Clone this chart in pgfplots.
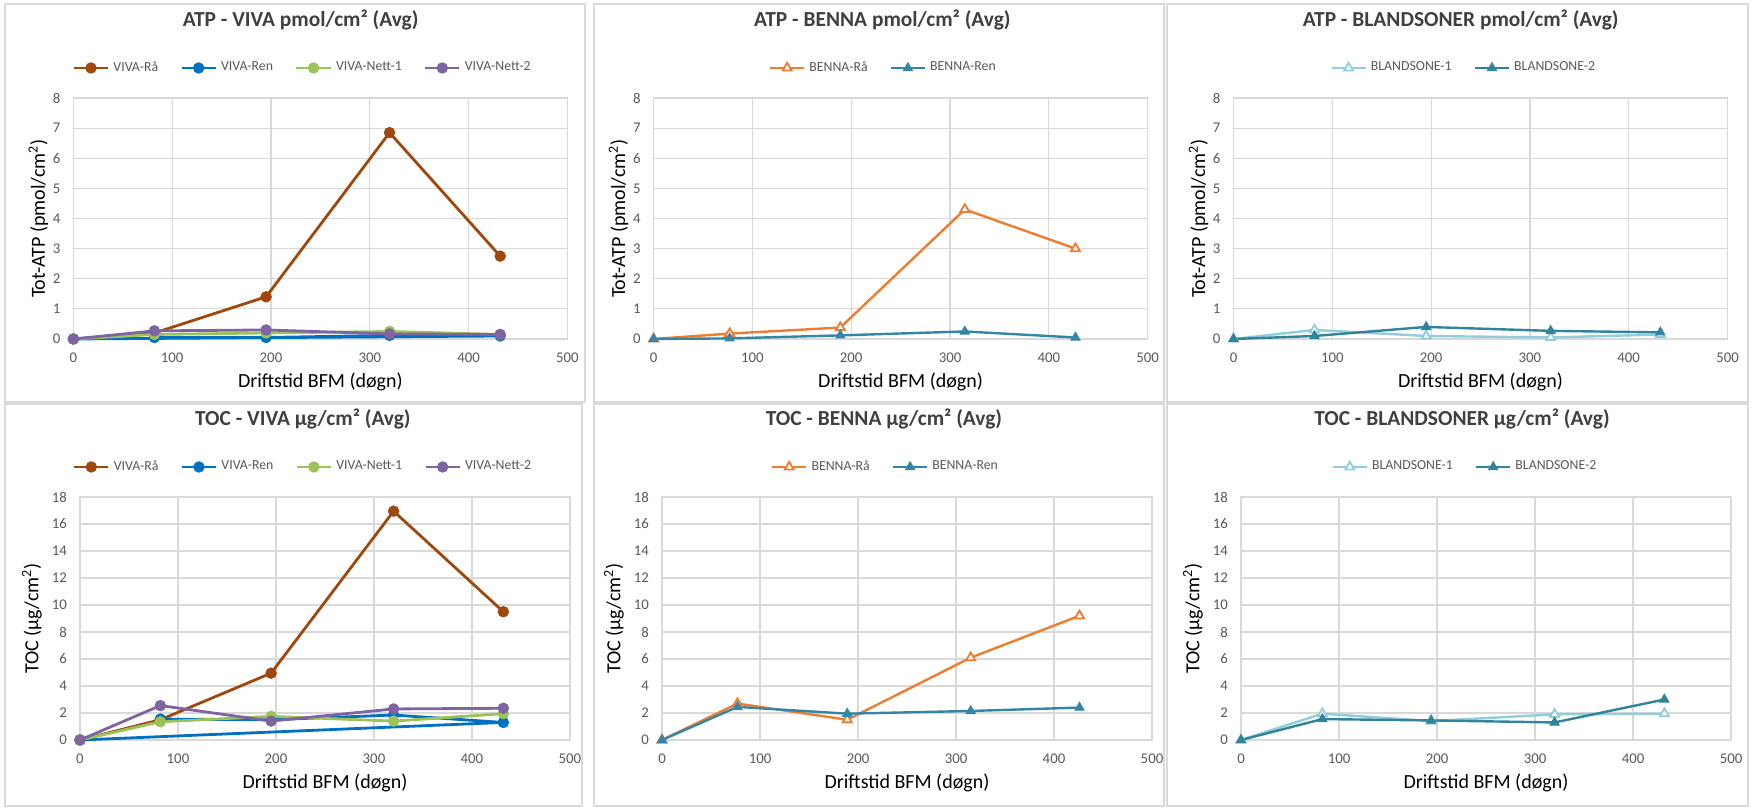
\documentclass[border=0pt]{standalone}
\usepackage{fontspec}
\setmainfont{Carlito}
\usepackage{pgfplots}
\pgfplotsset{compat=1.18}

\definecolor{gridc}{HTML}{D9D9D9}
\definecolor{framec}{HTML}{D9D9D9}
\definecolor{labc}{HTML}{595959}
\definecolor{titc}{HTML}{404040}
\definecolor{vraa}{HTML}{9E480E}
\definecolor{vren}{HTML}{0070C0}
\definecolor{vn1}{HTML}{9BC35A}
\definecolor{vn2}{HTML}{8064A2}
\definecolor{braa}{HTML}{ED7D31}
\definecolor{bren}{HTML}{3585A5}
\definecolor{bl1}{HTML}{92CDDC}
\definecolor{bl2}{HTML}{31849B}

\pgfplotsset{
  panel/.style={
    scale only axis, anchor=south west,
    xmin=0, xmax=500, xtick={0,100,...,500}, ymin=0,
    grid=major, major grid style={draw=gridc, line width=0.6pt},
    axis line style={draw=gridc, line width=0.6pt},
    major tick length=0pt,
    /pgf/number format/assume math mode=true,
    tick label style={font=\fontsize{7.4}{8}\selectfont, text=labc},
    xticklabel style={yshift=-3.5pt},
    yticklabel style={xshift=-3pt},
    xlabel={Driftstid BFM (døgn)},
    label style={font=\fontsize{9.2}{11}\selectfont, text=labc},
    every axis x label/.style={at={(axis description cs:0.5,0)}, yshift=-21.5pt, anchor=center},
    title style={font=\bfseries\fontsize{10.7}{13}\selectfont, text=titc, anchor=center, yshift=33pt},
    legend style={draw=none, fill=none, legend columns=-1, font=\fontsize{6.9}{8}\selectfont, text=labc, anchor=center,
      /tikz/every even column/.append style={column sep=9pt}},
    legend cell align=left,
    clip=false,
  },
  toprow/.style={panel, width=247pt, height=120.5pt, ymax=8, ytick={0,1,...,8},
    ylabel={Tot-ATP (pmol/cm\textsuperscript{2})},
    every axis y label/.style={at={(axis description cs:0,0.5)}, xshift=-17.5pt, anchor=center, rotate=90}},
  botrow/.style={panel, width=245pt, height=121.5pt, ymax=18, ytick={0,2,...,18},
    ylabel={TOC (µg/cm\textsuperscript{2})},
    every axis y label/.style={at={(axis description cs:0,0.5)}, xshift=-24pt, anchor=center, rotate=90}},
  circ/.style={mark=*, line width=1.4pt, mark size=2.6pt, mark options={solid, line width=0.5pt}},
  tri/.style={mark=triangle*, line width=1.2pt, mark size=2.6pt, mark options={solid, line width=0.5pt}},
  otri/.style={mark=triangle*, line width=1.2pt, mark size=2.6pt, mark options={solid, fill=white, line width=0.9pt}},
}

\begin{document}
\begin{tikzpicture}
\fill[white] (0,0) rectangle (876pt,404.5pt);
\path[use as bounding box] (0,0) rectangle (876pt,404.5pt);
\begin{scope}[draw=framec, line width=0.6pt]
\draw (2.5pt,203.5pt) rectangle (292.5pt,402.5pt);
\draw (297pt,203.5pt) rectangle (582pt,402.5pt);
\draw (583.5pt,203.5pt) rectangle (874pt,402.5pt);
\draw (2.5pt,1.5pt) rectangle (291pt,202.5pt);
\draw (297pt,1.5pt) rectangle (582pt,202.5pt);
\draw (583.5pt,1.5pt) rectangle (874pt,202.5pt);
\end{scope}

% ---------- ATP VIVA ----------
\begin{axis}[toprow, at={(36.7pt,235pt)},
  title={ATP - VIVA pmol/cm² (Avg)}, title style={at={(0.46,1)}},
  legend style={at={(0.466,1.1245)}}]
\addplot[vraa, circ] coordinates {(0,0) (82,0.2) (195,1.4) (320,6.85) (432,2.75)};
\addlegendentry{VIVA-Rå}
\addplot[vren, circ] coordinates {(82,0.05) (195,0.05) (320,0.12) (432,0.1) (0,0)};
\addlegendentry{VIVA-Ren}
\addplot[vn1, circ] coordinates {(0,0) (82,0.15) (195,0.2) (320,0.25) (432,0.15)};
\addlegendentry{VIVA-Nett-1}
\addplot[vn2, circ] coordinates {(0,0) (82,0.27) (195,0.3) (320,0.17) (432,0.15)};
\addlegendentry{VIVA-Nett-2}
\end{axis}

% ---------- ATP BENNA ----------
\begin{axis}[toprow, at={(326.8pt,235pt)},
  title={ATP - BENNA pmol/cm² (Avg)}, title style={at={(0.463,1)}},
  legend style={at={(0.467,1.1245)}}]
\addplot[braa, otri] coordinates {(0,0) (77,0.18) (189,0.38) (315,4.3) (427,3.0)};
\addlegendentry{BENNA-Rå}
\addplot[bren, tri] coordinates {(0,0) (77,0.02) (189,0.12) (315,0.25) (427,0.05)};
\addlegendentry{BENNA-Ren}
\end{axis}

% ---------- ATP BLANDSONER ----------
\begin{axis}[toprow, at={(616.75pt,235pt)},
  title={ATP - BLANDSONER pmol/cm² (Avg)}, title style={at={(0.46,1)}},
  legend style={at={(0.468,1.1245)}}]
\addplot[bl1, otri] coordinates {(0,0) (82,0.3) (195,0.1) (321,0.05) (432,0.15)};
\addlegendentry{BLANDSONE-1}
\addplot[bl2, tri] coordinates {(0,0) (82,0.1) (195,0.4) (321,0.27) (432,0.22)};
\addlegendentry{BLANDSONE-2}
\end{axis}

% ---------- TOC VIVA ----------
\begin{axis}[botrow, at={(40pt,34.5pt)},
  title={TOC - VIVA µg/cm² (Avg)}, title style={at={(0.455,1)}},
  legend style={at={(0.457,1.1235)}}]
\addplot[vraa, circ] coordinates {(0,0) (82,1.5) (195,4.95) (320,16.95) (432,9.5)};
\addlegendentry{VIVA-Rå}
\addplot[vren, circ] coordinates {(82,1.55) (195,1.5) (320,1.85) (432,1.3) (0,0)};
\addlegendentry{VIVA-Ren}
\addplot[vn1, circ] coordinates {(0,0) (82,1.35) (195,1.75) (320,1.4) (432,1.95)};
\addlegendentry{VIVA-Nett-1}
\addplot[vn2, circ] coordinates {(0,0) (82,2.55) (195,1.4) (320,2.3) (432,2.35)};
\addlegendentry{VIVA-Nett-2}
\end{axis}

% ---------- TOC BENNA ----------
\begin{axis}[botrow, at={(331pt,34.5pt)},
  title={TOC - BENNA µg/cm² (Avg)}, title style={at={(0.453,1)}},
  legend style={at={(0.458,1.1235)}}]
\addplot[braa, otri] coordinates {(0,0) (77,2.7) (189,1.5) (315,6.1) (426,9.2)};
\addlegendentry{BENNA-Rå}
\addplot[bren, tri] coordinates {(0,0) (77,2.45) (189,1.95) (315,2.15) (426,2.4)};
\addlegendentry{BENNA-Ren}
\end{axis}

% ---------- TOC BLANDSONER ----------
\begin{axis}[botrow, at={(620.5pt,34.5pt)},
  title={TOC - BLANDSONER µg/cm² (Avg)}, title style={at={(0.451,1)}},
  legend style={at={(0.459,1.1235)}}]
\addplot[bl1, otri] coordinates {(0,0) (83,1.95) (194,1.4) (320,1.9) (432,1.95)};
\addlegendentry{BLANDSONE-1}
\addplot[bl2, tri] coordinates {(0,0) (83,1.55) (194,1.45) (320,1.3) (432,3.0)};
\addlegendentry{BLANDSONE-2}
\end{axis}
\end{tikzpicture}
\end{document}
